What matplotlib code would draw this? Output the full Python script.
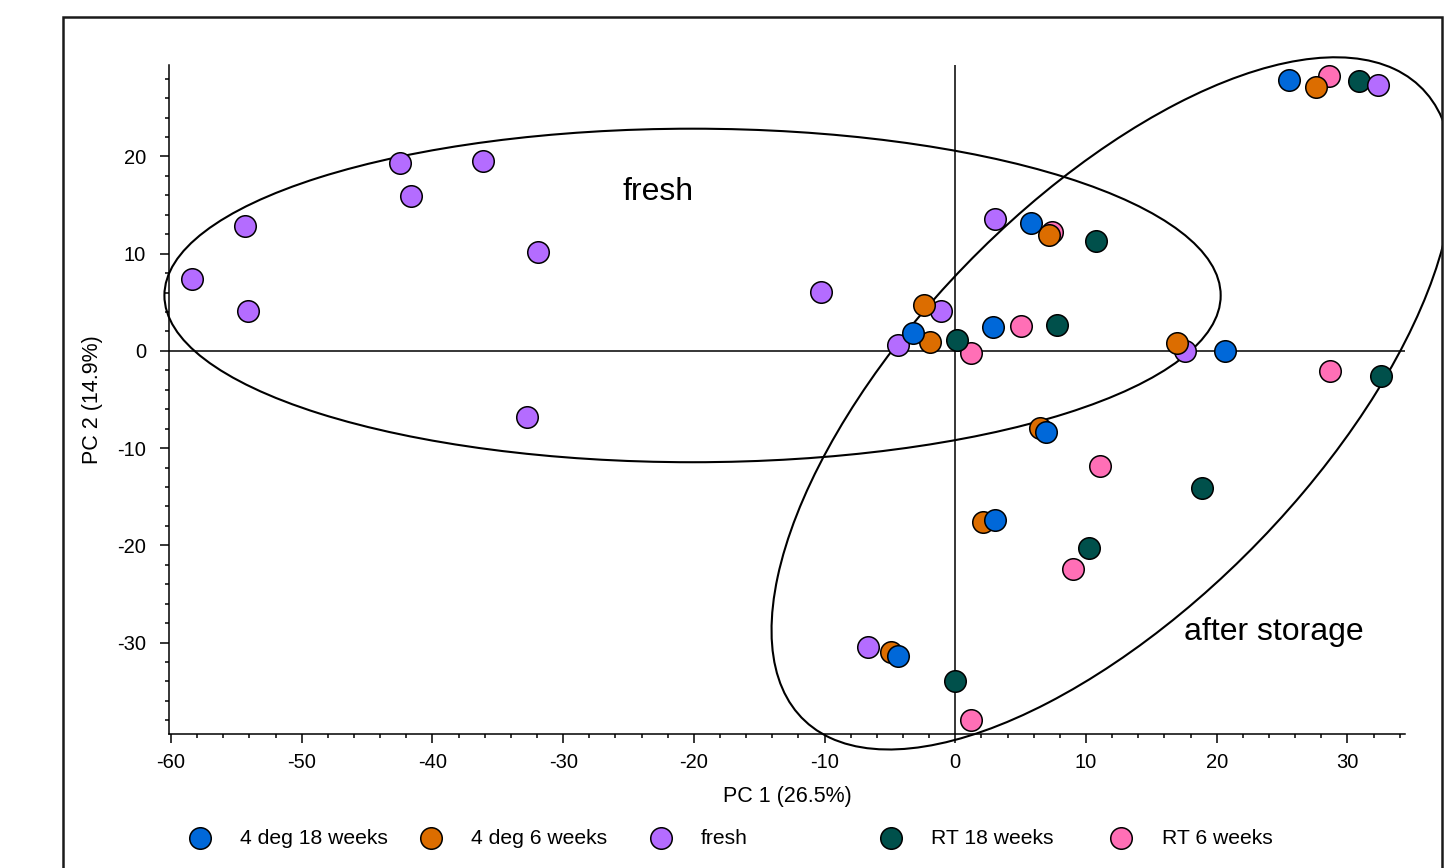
import matplotlib
matplotlib.use('Agg')
import matplotlib.pyplot as plt
from matplotlib.patches import Ellipse, Rectangle
from matplotlib.transforms import Bbox, TransformedBbox
from matplotlib.ticker import MultipleLocator

plt.rcParams['font.family'] = ['Liberation Sans', 'DejaVu Sans']
plt.rcParams['axes.unicode_minus'] = False

# scores, one pair of lists per group
grupos = ['RT 6 weeks', 'RT 18 weeks', 'fresh', '4 deg 6 weeks', '4 deg 18 weeks']
cores = {'4 deg 18 weeks': '#0068d9', '4 deg 6 weeks': '#dc6d00', 'fresh': '#b46cff',
         'RT 18 weeks': '#00504b', 'RT 6 weeks': '#ff6fb6'}
ordem_legenda = ['4 deg 18 weeks', '4 deg 6 weeks', 'fresh', 'RT 18 weeks', 'RT 6 weeks']

fresh_x = [-58.4, -54.3, -54.1, -42.5, -41.6, -36.1, -31.9, -32.8, -10.3, -1.1, -4.4, 3.0, 17.6, 32.3, -6.7]
fresh_y = [7.4, 12.8, 4.1, 19.3, 15.9, 19.5, 10.2, -6.8, 6.1, 4.1, 0.6, 13.6, 0.0, 27.3, -30.5]

d4_18_x = [25.5, 5.8, -3.25, 2.9, 20.6, 6.9, 3.0, -4.4]
d4_18_y = [27.9, 13.1, 1.8, 2.5, 0.0, -8.3, -17.4, -31.4]

d4_6_x = [27.6, 7.2, -2.4, -1.9, 16.95, 6.5, 2.1, -4.9]
d4_6_y = [27.1, 11.9, 4.7, 0.9, 0.8, -7.9, -17.6, -31.0]

rt18_x = [30.9, 10.75, 0.1, 7.8, 32.6, 18.9, 10.2, 0.0]
rt18_y = [27.8, 11.3, 1.1, 2.7, -2.6, -14.1, -20.3, -34.0]

rt6_x = [28.6, 7.4, 1.2, 5.0, 28.7, 11.1, 9.0, 1.2]
rt6_y = [28.3, 12.2, -0.2, 2.6, -2.1, -11.8, -22.4, -38.0]

dados = {'fresh': (fresh_x, fresh_y), '4 deg 18 weeks': (d4_18_x, d4_18_y),
         '4 deg 6 weeks': (d4_6_x, d4_6_y), 'RT 18 weeks': (rt18_x, rt18_y),
         'RT 6 weeks': (rt6_x, rt6_y)}

# hand drawn group ellipses (centre, width, height, angle)
elipses = [((-20.1, 5.7), 80.8, 34.3, 0.0), ((12.0, -5.4), 81.2, 34.5, 57.9)]
rotulos = [('fresh', -22.75, 16.35), ('after storage', 24.4, -28.9)]

fig = plt.figure(figsize=(14.44, 8.68), dpi=100)
ax = fig.add_axes([169 / 1444, 1 - 734 / 868, (1405 - 169) / 1444, (734 - 65) / 868])

pontos = {}
for g in grupos:
    x, y = dados[g]
    pontos[g] = ax.scatter(x, y, s=240, c=cores[g], edgecolors='black', linewidths=1.1,
                           zorder=3, label=g, clip_on=False)

ax.set_xlim(-60.15, 34.4)
ax.set_ylim(-39.4, 29.4)
ax.axhline(0, color='black', lw=1.1, zorder=1)
ax.axvline(0, color='black', lw=1.1, zorder=1)

# frame around the figure
moldura = Rectangle((62.5 / 1444, -0.05), (1441.5 - 62.5) / 1444, (868 - 17) / 868 + 0.05,
                    transform=fig.transFigure, fill=False, lw=1.8, ec='#1a1a1a')
fig.patches.append(moldura)
caixa = TransformedBbox(Bbox.from_extents(62.5 / 1444, 0, 1441.5 / 1444, (868 - 17) / 868),
                        fig.transFigure)

for (c, w, h, a) in elipses:
    e = Ellipse(c, w, h, angle=a, fill=False, lw=1.5, ec='black', zorder=2, clip_on=False)
    ax.add_patch(e)
    e.set_clip_box(caixa)
    e.set_clip_on(True)

for t, x, y in rotulos:
    ax.text(x, y, t, fontsize=23, ha='center', va='center')

for lado in ['top', 'right']:
    ax.spines[lado].set_visible(False)
for lado in ['left', 'bottom']:
    ax.spines[lado].set_linewidth(1.1)

ax.xaxis.set_major_locator(MultipleLocator(10))
ax.xaxis.set_minor_locator(MultipleLocator(2))
ax.yaxis.set_major_locator(MultipleLocator(10))
ax.yaxis.set_minor_locator(MultipleLocator(2))
ax.tick_params(which='major', direction='out', length=6.5, width=1.1, labelsize=14.5)
ax.tick_params(axis='y', which='major', pad=10)
ax.tick_params(axis='x', which='major', pad=7)
ax.tick_params(which='minor', direction='out', length=3.2, width=1.1)

ax.set_xlabel('PC 1 (26.5%)', fontsize=15.5, labelpad=10)
ax.set_ylabel('PC 2 (14.9%)', fontsize=15.5, labelpad=10)

# legend: one entry every ~230 px along the bottom
for i, g in enumerate(ordem_legenda):
    cx = 200 + i * 230.3
    fig.legend(handles=[pontos[g]], labels=[g], loc='center left',
               bbox_to_anchor=((cx - 15.6) / 1444, 1 - 838 / 868),
               frameon=False, fontsize=15.2, handlelength=1.5, handletextpad=1.15,
               borderpad=0, borderaxespad=0, scatterpoints=1)

fig.savefig('out.png', dpi=100)
